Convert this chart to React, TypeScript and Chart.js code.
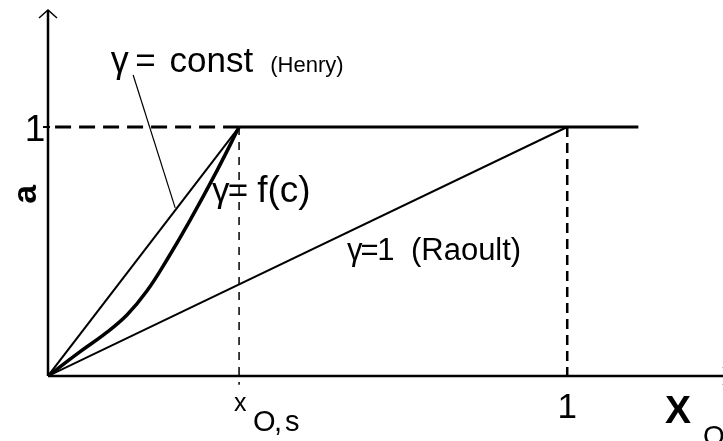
import { useEffect, useRef } from "react";
import { Chart, registerables } from "chart.js";

Chart.register(...registerables);

// Mole fraction where the solution saturates (x_O,s) and where a reaches 1 for the ideal case
const X_SAT = 0.368;
const X_PURE = 1;
const PLATEAU_END = 1.137;

// Axis extents (data units)
const X_MAX = 1.3;
const Y_MAX = 1.47;

// Henry: constant activity coefficient, straight line to saturation
const henryX = [0, X_SAT];
const henryY = [0, 1];

// Real solution: γ = f(c)
const realX = [0, 0.06, 0.11, 0.152, 0.19, 0.23, 0.274, 0.326, X_SAT];
const realY = [0, 0.095, 0.17, 0.245, 0.34, 0.47, 0.627, 0.827, 1];

// Raoult: γ = 1, a = x
const raoultX = [0, X_PURE];
const raoultY = [0, 1];

// Saturated plateau a = 1
const plateauX = [X_SAT, PLATEAU_END];
const plateauY = [1, 1];

// Pointer from the Henry caption to its line
const leaderX = [0.164, 0.245];
const leaderY = [1.209, 0.675];

const FONT = '"Liberation Sans", Arial, Helvetica, sans-serif';

type Label = { text: string; x: number; y: number; size: number; bold?: boolean };

// Captions placed in data coordinates (left edge, baseline)
const captions: Label[] = [
  { text: "γ", x: 0.121, y: 1.221, size: 36 },
  { text: "=", x: 0.168, y: 1.221, size: 35 },
  { text: "const", x: 0.234, y: 1.221, size: 35 },
  { text: "(Henry)", x: 0.428, y: 1.221, size: 22 },
  { text: "γ", x: 0.316, y: 0.699, size: 35 },
  { text: "=", x: 0.346, y: 0.699, size: 35 },
  { text: "f(c)", x: 0.403, y: 0.699, size: 37 },
  { text: "γ", x: 0.576, y: 0.466, size: 31 },
  { text: "=", x: 0.602, y: 0.466, size: 31 },
  { text: "1", x: 0.634, y: 0.466, size: 31 },
  { text: "(Raoult)", x: 0.699, y: 0.466, size: 31 },
];

const pts = (xs: number[], ys: number[]) => xs.map((x, i) => ({ x, y: ys[i] }));

const base = {
  pointRadius: 0,
  borderColor: "#000",
  backgroundColor: "#000",
  fill: false,
  showLine: true,
};

const drawingPlugin = {
  id: "activityDrawing",
  afterDatasetsDraw(chart: any) {
    const { ctx, scales } = chart;
    const xs = scales.x;
    const ys = scales.y;
    const px = (v: number) => xs.getPixelForValue(v);
    const py = (v: number) => ys.getPixelForValue(v);
    const x0 = px(0);
    const y0 = py(0);

    ctx.save();
    ctx.strokeStyle = "#000";
    ctx.fillStyle = "#000";

    // axes
    ctx.lineWidth = 2.5;
    ctx.beginPath();
    ctx.moveTo(x0, y0);
    ctx.lineTo(chart.width + 10, y0);
    ctx.moveTo(x0, y0);
    ctx.lineTo(x0, py(Y_MAX));
    ctx.stroke();

    // arrow heads
    ctx.lineWidth = 1.5;
    const top = py(Y_MAX);
    ctx.beginPath();
    ctx.moveTo(x0 - 9, top + 8);
    ctx.lineTo(x0, top);
    ctx.lineTo(x0 + 9, top + 8);
    ctx.stroke();
    const tipX = chart.width + 10;
    ctx.beginPath();
    ctx.moveTo(tipX - 10, y0 - 9);
    ctx.lineTo(tipX, y0);
    ctx.lineTo(tipX - 10, y0 + 9);
    ctx.stroke();

    // tick on the a axis at 1
    ctx.lineWidth = 2;
    ctx.beginPath();
    ctx.moveTo(x0 - 5, py(1));
    ctx.lineTo(x0 + 2, py(1));
    ctx.stroke();

    ctx.textBaseline = "alphabetic";

    // tick labels
    ctx.textAlign = "center";
    ctx.font = `37px ${FONT}`;
    ctx.fillText("1", x0 - 13, py(1) + 14);
    ctx.font = `35px ${FONT}`;
    ctx.fillText("1", px(X_PURE), y0 + 42);

    ctx.textAlign = "left";
    ctx.font = `25px ${FONT}`;
    ctx.fillText("x", px(X_SAT) - 5, y0 + 35);
    ctx.font = `29px ${FONT}`;
    ctx.fillText("O", px(X_SAT) + 14, y0 + 55);
    ctx.fillText(",", px(X_SAT) + 35, y0 + 55);
    ctx.fillText("s", px(X_SAT) + 46, y0 + 55);

    // axis titles
    ctx.font = `bold 39px ${FONT}`;
    ctx.fillText("X", 665, y0 + 47);
    ctx.font = `28px ${FONT}`;
    ctx.fillText("O", 703, y0 + 69);

    ctx.save();
    ctx.translate(x0 - 12, py(0.73));
    ctx.rotate(-Math.PI / 2);
    ctx.textAlign = "center";
    ctx.font = `bold 34px ${FONT}`;
    ctx.fillText("a", 0, 0);
    ctx.restore();

    // curve captions
    for (const c of captions) {
      ctx.font = `${c.bold ? "bold " : ""}${c.size}px ${FONT}`;
      ctx.fillText(c.text, px(c.x), py(c.y));
    }
    ctx.restore();
  },
};

export default function App() {
  const canvasRef = useRef<HTMLCanvasElement | null>(null);

  useEffect(() => {
    const canvas = canvasRef.current;
    if (!canvas) return;
    const chart = new Chart(canvas, {
      type: "scatter",
      data: {
        datasets: [
          { ...base, data: pts(henryX, henryY), borderWidth: 2 },
          {
            ...base,
            data: pts(realX, realY),
            borderWidth: 3.5,
            tension: 0.4,
          },
          { ...base, data: pts(raoultX, raoultY), borderWidth: 2 },
          { ...base, data: pts(plateauX, plateauY), borderWidth: 3 },
          // a = 1 reference, dashed back to the axis
          {
            ...base,
            data: pts([X_SAT, 0], [1, 1]),
            borderWidth: 3,
            borderDash: [16, 8],
          },
          // drop line at x_O,s, slightly past the axis
          {
            ...base,
            data: pts([X_SAT, X_SAT], [1, -0.035]),
            borderWidth: 1.5,
            borderDash: [8, 7],
            clip: false,
          },
          // drop line at x = 1
          {
            ...base,
            data: pts([X_PURE, X_PURE], [1, 0]),
            borderWidth: 2.5,
            borderDash: [10, 6],
          },
          { ...base, data: pts(leaderX, leaderY), borderWidth: 1.2 },
        ] as any,
      },
      options: {
        animation: false,
        responsive: false,
        devicePixelRatio: 1,
        layout: { padding: { left: 48, top: 10, right: 0, bottom: 65 } },
        plugins: { legend: { display: false }, tooltip: { enabled: false } },
        events: [],
        scales: {
          x: { type: "linear", min: 0, max: X_MAX, display: false },
          y: { type: "linear", min: 0, max: Y_MAX, display: false },
        },
      },
      plugins: [drawingPlugin],
    });
    return () => chart.destroy();
  }, []);

  return (
    <div style={{ position: "fixed", left: 0, top: 0, width: 723, height: 441, background: "#fff" }}>
      <canvas ref={canvasRef} width={723} height={441} style={{ display: "block" }} />
    </div>
  );
}
